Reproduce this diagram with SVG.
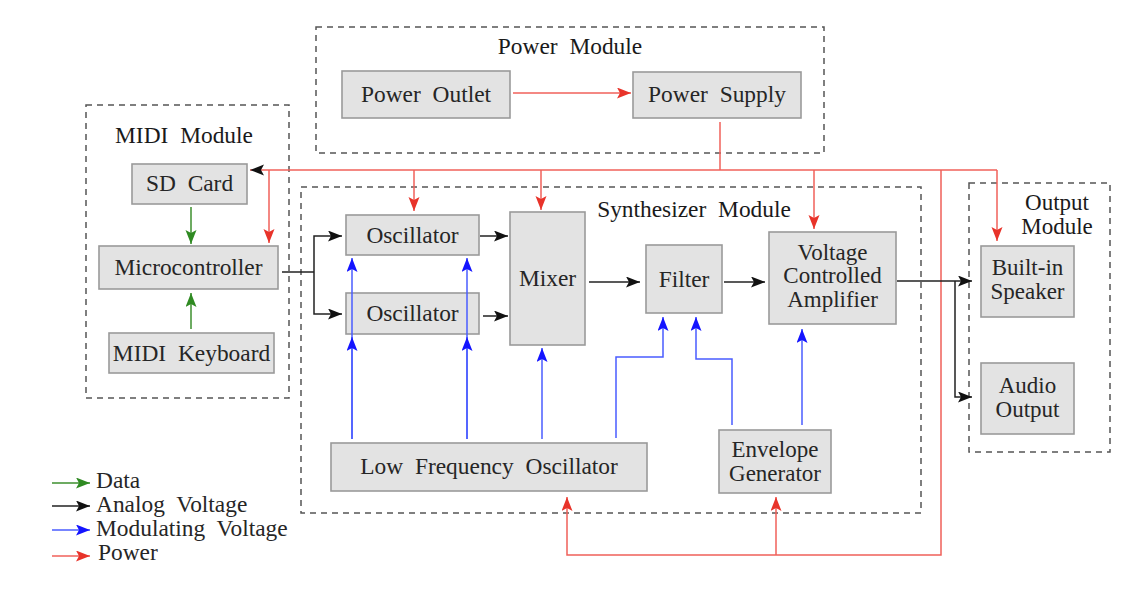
<svg xmlns="http://www.w3.org/2000/svg" width="1144" height="600" viewBox="0 0 1144 600">
<style>
  .mod{fill:none;stroke:#555;stroke-width:1.5;stroke-dasharray:6,5}
  .box{fill:#e3e3e3;stroke:#9a9a9a;stroke-width:1.6}
  text{font-family:"Liberation Serif","Times New Roman",serif;font-size:23.4px;fill:#262626;word-spacing:6px}
  .c{text-anchor:middle}
  .m{font-size:23px}
  .ttl{fill:#1a1a1a}
  .w{fill:none;stroke-width:1.5}
  .red{stroke:#f0605a}
  .blk{stroke:#222}
  .blu{stroke:#4a5cff}
  .grn{stroke:#3d8f2e}
</style>
<defs>
  <marker id="aR" markerUnits="userSpaceOnUse" markerWidth="15" markerHeight="12" refX="14" refY="5.5" orient="auto"><path d="M0,0 L14,5.5 L0,11 L3,5.5 z" fill="#e8332a"/></marker>
  <marker id="aK" markerUnits="userSpaceOnUse" markerWidth="15" markerHeight="12" refX="14" refY="5.5" orient="auto"><path d="M0,0 L14,5.5 L0,11 L3,5.5 z" fill="#111"/></marker>
  <marker id="aB" markerUnits="userSpaceOnUse" markerWidth="15" markerHeight="12" refX="14" refY="5.5" orient="auto"><path d="M0,0 L14,5.5 L0,11 L3,5.5 z" fill="#1414ff"/></marker>
  <marker id="aG" markerUnits="userSpaceOnUse" markerWidth="15" markerHeight="12" refX="14" refY="5.5" orient="auto"><path d="M0,0 L14,5.5 L0,11 L3,5.5 z" fill="#2f8a22"/></marker>
</defs>

<g id="modules">
  <g id="power-module"><rect class="mod" x="316" y="27" width="508" height="126"/><text class="c ttl" x="570" y="54">Power Module</text></g>
  <g id="midi-module"><rect class="mod" x="86" y="105" width="203" height="293"/><text class="c ttl" x="184" y="143">MIDI Module</text></g>
  <g id="synth-module"><rect class="mod" x="301" y="187" width="620" height="326"/><text class="c ttl" x="694" y="217">Synthesizer Module</text></g>
  <g id="output-module"><rect class="mod" x="969" y="183" width="141" height="269"/><text class="c ttl m" x="1057" y="210">Output</text><text class="c ttl m" x="1057" y="233.5">Module</text></g>
</g>

<g id="power-outlet"><rect class="box" x="342" y="71" width="168" height="47"/><text class="c" x="426" y="102">Power Outlet</text></g>
<g id="power-supply"><rect class="box" x="633" y="72" width="168" height="46"/><text class="c" x="717" y="102">Power Supply</text></g>
<g id="sd-card"><rect class="box" x="132" y="164" width="115" height="40"/><text class="c" x="189.5" y="191">SD Card</text></g>
<g id="microcontroller"><rect class="box" x="99" y="246" width="179" height="43"/><text class="c" x="188.5" y="275">Microcontroller</text></g>
<g id="midi-keyboard"><rect class="box" x="109" y="333" width="165" height="40"/><text class="c" x="191.5" y="361">MIDI Keyboard</text></g>
<g id="oscillator-1"><rect class="box" x="346" y="215" width="133" height="40"/><text class="c" x="412.5" y="243">Oscillator</text></g>
<g id="oscillator-2"><rect class="box" x="346" y="293" width="133" height="41"/><text class="c" x="412.5" y="321">Oscillator</text></g>
<g id="mixer"><rect class="box" x="510" y="212" width="75" height="133"/><text class="c" x="547.5" y="286">Mixer</text></g>
<g id="filter"><rect class="box" x="646" y="245" width="76" height="68"/><text class="c" x="684" y="287">Filter</text></g>
<g id="vca"><rect class="box" x="769" y="232" width="127" height="92"/><text class="c m" x="832.5" y="259.5">Voltage</text><text class="c m" x="832.5" y="283">Controlled</text><text class="c m" x="832.5" y="306.5">Amplifier</text></g>
<g id="lfo"><rect class="box" x="331" y="443" width="316" height="48"/><text class="c" x="489" y="474">Low Frequency Oscillator</text></g>
<g id="envelope-generator"><rect class="box" x="719" y="430" width="112" height="63"/><text class="c m" x="775" y="457">Envelope</text><text class="c m" x="775" y="480.5">Generator</text></g>
<g id="built-in-speaker"><rect class="box" x="981" y="246" width="93" height="71"/><text class="c m" x="1027.5" y="275">Built-in</text><text class="c m" x="1027.5" y="298.5">Speaker</text></g>
<g id="audio-output"><rect class="box" x="981" y="363" width="93" height="71"/><text class="c m" x="1027.5" y="393">Audio</text><text class="c m" x="1027.5" y="416.5">Output</text></g>

<g id="connectors">
  <!-- power -->
  <path class="w red" d="M513,93 H631" marker-end="url(#aR)"/>
  <path class="w red" d="M720,122 V170"/>
  <path class="w red" d="M269,170 H997"/>
  <path class="w red" d="M269,170 H250" marker-end="url(#aK)"/>
  <path class="w red" d="M269,170 V243" marker-end="url(#aR)"/>
  <path class="w red" d="M414,170 V211" marker-end="url(#aR)"/>
  <path class="w red" d="M541,170 V210" marker-end="url(#aR)"/>
  <path class="w red" d="M814,170 V229" marker-end="url(#aR)"/>
  <path class="w red" d="M997,170 V241" marker-end="url(#aR)"/>
  <path class="w red" d="M941,170 V555 H567 V497" marker-end="url(#aR)"/>
  <path class="w red" d="M776,555 V497" marker-end="url(#aR)"/>
  <!-- data -->
  <path class="w grn" d="M191,207 V244" marker-end="url(#aG)"/>
  <path class="w grn" d="M191,329 V293" marker-end="url(#aG)"/>
  <!-- analog -->
  <path class="w blk" d="M282,272 H314"/>
  <path class="w blk" d="M314,272 V236 H342" marker-end="url(#aK)"/>
  <path class="w blk" d="M314,272 V314 H342" marker-end="url(#aK)"/>
  <path class="w blk" d="M480,236 H508" marker-end="url(#aK)"/>
  <path class="w blk" d="M483,316 H508" marker-end="url(#aK)"/>
  <path class="w blk" d="M589,282 H640" marker-end="url(#aK)"/>
  <path class="w blk" d="M724,282 H765" marker-end="url(#aK)"/>
  <path class="w blk" d="M897,281 H972" marker-end="url(#aK)"/>
  <path class="w blk" d="M955,281 V397 H972" marker-end="url(#aK)"/>
  <!-- modulating -->
  <path class="w blu" d="M352,439 V258" marker-end="url(#aB)"/>
  <path class="w blu" d="M352,439 V337" marker-end="url(#aB)"/>
  <path class="w blu" d="M467,439 V258" marker-end="url(#aB)"/>
  <path class="w blu" d="M467,439 V337" marker-end="url(#aB)"/>
  <path class="w blu" d="M542,439 V348" marker-end="url(#aB)"/>
  <path class="w blu" d="M616,438 V357 H663 V317" marker-end="url(#aB)"/>
  <path class="w blu" d="M732,425 V359 H696 V317" marker-end="url(#aB)"/>
  <path class="w blu" d="M802,425 V329" marker-end="url(#aB)"/>
</g>

<g id="legend">
  <path class="w grn" d="M52,483 H90" marker-end="url(#aG)"/>
  <path class="w blk" d="M52,506 H90" marker-end="url(#aK)"/>
  <path class="w blu" d="M52,530 H90" marker-end="url(#aB)"/>
  <path class="w red" d="M52,556 H90" marker-end="url(#aR)"/>
  <text x="96" y="488">Data</text>
  <text x="96" y="512">Analog Voltage</text>
  <text x="96" y="536">Modulating Voltage</text>
  <text x="98" y="560">Power</text>
</g>
</svg>
